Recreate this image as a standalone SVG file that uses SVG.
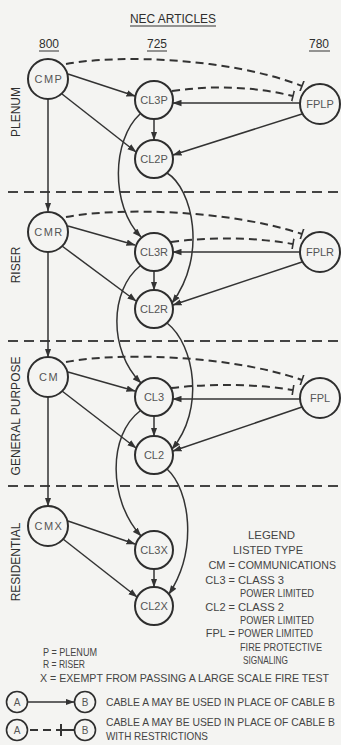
<svg xmlns="http://www.w3.org/2000/svg" width="341" height="745" viewBox="0 0 341 745">
<style>
text{font-family:"Liberation Sans",Arial,sans-serif;}
.bg{fill:#f4f4f2;}
.node circle{fill:#f4f4f2;stroke:#2e2e2e;stroke-width:2;}
.node text{font-size:11px;fill:#555;text-anchor:middle;}
.cm text{letter-spacing:1.5px;}
.sep{stroke:#444;stroke-width:2;stroke-dasharray:10 6;fill:none;}
.e{stroke:#333;stroke-width:1.5;fill:none;marker-end:url(#arr);}
.d{stroke:#333;stroke-width:2;fill:none;stroke-dasharray:8 5;marker-end:url(#tee);}
.sec{font-size:12px;fill:#2e2e2e;text-anchor:middle;}
.hd{font-size:12px;fill:#2e2e2e;text-anchor:middle;}
.ul{stroke:#333;stroke-width:1;}
.lg{font-size:11px;fill:#444;}
.lw{font-size:10.2px;fill:#444;}
</style>
<defs>
<marker id="arr" markerUnits="userSpaceOnUse" markerWidth="9" markerHeight="7" refX="8.5" refY="3.5" orient="auto" viewBox="0 0 9 7">
<path d="M0,0.3 L9,3.5 L0,6.7 z" fill="#333"/>
</marker>
<marker id="tee" markerUnits="userSpaceOnUse" markerWidth="3" markerHeight="11" refX="1.5" refY="5.5" orient="auto" viewBox="0 0 3 11">
<path d="M1.5,0 L1.5,11" stroke="#333" stroke-width="1.6" stroke-dasharray="none" fill="none"/>
</marker>
</defs>
<rect class="bg" x="0" y="0" width="341" height="745"/>

<g id="header">
<text class="hd" x="173" y="23" font-size="12.5" textLength="86" lengthAdjust="spacingAndGlyphs">NEC ARTICLES</text>
<line class="ul" x1="130" y1="26" x2="216" y2="26"/>
<text class="hd" x="49" y="48">800</text>
<line class="ul" x1="39" y1="51" x2="59" y2="51"/>
<text class="hd" x="157" y="48">725</text>
<line class="ul" x1="147" y1="51" x2="167" y2="51"/>
<text class="hd" x="319" y="48">780</text>
<line class="ul" x1="309" y1="51" x2="330" y2="51"/>
</g>

<g id="sections">
<text class="sec" transform="translate(20,112) rotate(-90)">PLENUM</text>
<text class="sec" transform="translate(20,265) rotate(-90)">RISER</text>
<text class="sec" transform="translate(20,416) rotate(-90)">GENERAL PURPOSE</text>
<text class="sec" transform="translate(20,562) rotate(-90)">RESIDENTIAL</text>
<line class="sep" x1="8" y1="192" x2="341" y2="192"/>
<line class="sep" x1="8" y1="341" x2="341" y2="341"/>
<line class="sep" x1="8" y1="486" x2="341" y2="486"/>
</g>

<g id="connectors">
<path class="e" d="M68,74 L135,96"/>
<path class="e" d="M62,94 L136,152"/>
<path class="e" d="M154,119 L154,140"/>
<path class="e" d="M300,103 L173,103"/>
<path class="e" d="M302,114 L173,155"/>
<path class="d" d="M66,64 C120,54 230,58 302,86"/>
<path class="d" d="M172,91 Q235,82 293,96"/>
<path class="e" d="M48,99 L48,211"/>
<path class="e" d="M68,226 L135,245"/>
<path class="e" d="M62,246 L136,301"/>
<path class="e" d="M154,271 L154,290"/>
<path class="e" d="M300,252 L173,252"/>
<path class="e" d="M302,262 L173,305"/>
<path class="d" d="M66,217 C120,207 230,210 302,234"/>
<path class="d" d="M171,242 Q235,234 293,244"/>
<path class="e" d="M48,252 L48,357"/>
<path class="e" d="M68,372 L135,391"/>
<path class="e" d="M62,391 L136,448"/>
<path class="e" d="M154,416 L154,436"/>
<path class="e" d="M300,399 L173,399"/>
<path class="e" d="M302,407 L173,451"/>
<path class="d" d="M66,362 C120,352 230,355 302,380"/>
<path class="d" d="M171,388 Q235,381 293,390"/>
<path class="e" d="M48,397 L48,506"/>
<path class="e" d="M68,521 L135,544"/>
<path class="e" d="M63,539 L137,597"/>
<path class="e" d="M154,569 L154,587"/>
<path class="e" d="M140,114 C112,140 110,205 141,237"/>
<path class="e" d="M167,173 C192,188 208,255 172,303"/>
<path class="e" d="M140,266 C110,290 108,350 141,383"/>
<path class="e" d="M167,323 C195,345 205,410 172,449"/>
<path class="e" d="M140,411 C108,435 108,500 141,536"/>
<path class="e" d="M167,469 C190,490 198,550 169,594"/>
</g>

<g id="CMP" class="node cm"><circle cx="48" cy="79" r="20"/><text x="49" y="83">CMP</text></g>
<g id="CL3P" class="node"><circle cx="154" cy="100" r="19"/><text x="154" y="104">CL3P</text></g>
<g id="CL2P" class="node"><circle cx="154" cy="159" r="19"/><text x="154" y="163">CL2P</text></g>
<g id="FPLP" class="node"><circle cx="320" cy="104" r="20"/><text x="320" y="108">FPLP</text></g>

<g id="CMR" class="node cm"><circle cx="48" cy="232" r="20"/><text x="49" y="236">CMR</text></g>
<g id="CL3R" class="node"><circle cx="154" cy="252" r="19"/><text x="154" y="256">CL3R</text></g>
<g id="CL2R" class="node"><circle cx="154" cy="309" r="19"/><text x="154" y="313">CL2R</text></g>
<g id="FPLR" class="node"><circle cx="320" cy="252" r="20"/><text x="320" y="256">FPLR</text></g>

<g id="CM" class="node cm"><circle cx="48" cy="377" r="20"/><text x="49" y="381">CM</text></g>
<g id="CL3" class="node"><circle cx="154" cy="397" r="19"/><text x="154" y="401">CL3</text></g>
<g id="CL2" class="node"><circle cx="154" cy="455" r="19"/><text x="154" y="459">CL2</text></g>
<g id="FPL" class="node"><circle cx="320" cy="398" r="20"/><text x="320" y="402">FPL</text></g>

<g id="CMX" class="node cm"><circle cx="48" cy="526" r="20"/><text x="49" y="530">CMX</text></g>
<g id="CL3X" class="node"><circle cx="154" cy="550" r="19"/><text x="154" y="554">CL3X</text></g>
<g id="CL2X" class="node"><circle cx="154" cy="606" r="19"/><text x="154" y="610">CL2X</text></g>

<g id="legend">
<text class="lg" x="248" y="539" textLength="47" lengthAdjust="spacingAndGlyphs">LEGEND</text>
<text class="lg" x="233" y="554" textLength="70" lengthAdjust="spacingAndGlyphs">LISTED TYPE</text>
<text class="lg" x="235" y="569" text-anchor="end">CM =</text>
<text class="lg" x="238" y="569" font-size="10.4" textLength="98" lengthAdjust="spacingAndGlyphs">COMMUNICATIONS</text>
<text class="lg" x="235" y="584" text-anchor="end">CL3 =</text>
<text class="lg" x="238" y="584" textLength="46" lengthAdjust="spacingAndGlyphs">CLASS 3</text>
<text class="lg" x="240" y="597" textLength="74" lengthAdjust="spacingAndGlyphs">POWER LIMITED</text>
<text class="lg" x="235" y="611" text-anchor="end">CL2 =</text>
<text class="lg" x="238" y="611" textLength="46" lengthAdjust="spacingAndGlyphs">CLASS 2</text>
<text class="lg" x="240" y="624" textLength="74" lengthAdjust="spacingAndGlyphs">POWER LIMITED</text>
<text class="lg" x="235" y="637" text-anchor="end">FPL =</text>
<text class="lg" x="238" y="637" textLength="75" lengthAdjust="spacingAndGlyphs">POWER LIMITED</text>
<text class="lg" x="240" y="651" textLength="82" lengthAdjust="spacingAndGlyphs">FIRE PROTECTIVE</text>
<text class="lg" x="243" y="664" textLength="45" lengthAdjust="spacingAndGlyphs">SIGNALING</text>
<text class="lg" x="43" y="656" textLength="54" lengthAdjust="spacingAndGlyphs">P = PLENUM</text>
<text class="lg" x="43" y="668" textLength="42" lengthAdjust="spacingAndGlyphs">R = RISER</text>
<text class="lw" x="40" y="682" textLength="289" lengthAdjust="spacingAndGlyphs">X = EXEMPT FROM PASSING A LARGE SCALE FIRE TEST</text>
</g>

<g id="key1">
<circle cx="17" cy="702" r="10.5" fill="#f4f4f2" stroke="#2e2e2e" stroke-width="1.6"/>
<text x="17" y="706" font-size="10" fill="#555" text-anchor="middle">A</text>
<path d="M28,702 L74,702" stroke="#333" stroke-width="1.5" marker-end="url(#arr)"/>
<circle cx="85" cy="702" r="10.5" fill="#f4f4f2" stroke="#2e2e2e" stroke-width="1.6"/>
<text x="85" y="706" font-size="10" fill="#555" text-anchor="middle">B</text>
<text class="lw" x="106" y="706" textLength="229" lengthAdjust="spacingAndGlyphs">CABLE A MAY BE USED IN PLACE OF CABLE B</text>
</g>

<g id="key2">
<circle cx="17" cy="730" r="10.5" fill="#f4f4f2" stroke="#2e2e2e" stroke-width="1.6"/>
<text x="17" y="734" font-size="10" fill="#555" text-anchor="middle">A</text>
<path d="M30,730 L38,730 M43,730 L51,730 M56,730 L74,730" stroke="#333" stroke-width="2"/>
<path d="M61,724 L61,736" stroke="#333" stroke-width="2"/>
<circle cx="85" cy="730" r="10.5" fill="#f4f4f2" stroke="#2e2e2e" stroke-width="1.6"/>
<text x="85" y="734" font-size="10" fill="#555" text-anchor="middle">B</text>
<text class="lw" x="106" y="726" textLength="229" lengthAdjust="spacingAndGlyphs">CABLE A MAY BE USED IN PLACE OF CABLE B</text>
<text class="lg" x="106" y="740" textLength="102" lengthAdjust="spacingAndGlyphs">WITH RESTRICTIONS</text>
</g>
</svg>
